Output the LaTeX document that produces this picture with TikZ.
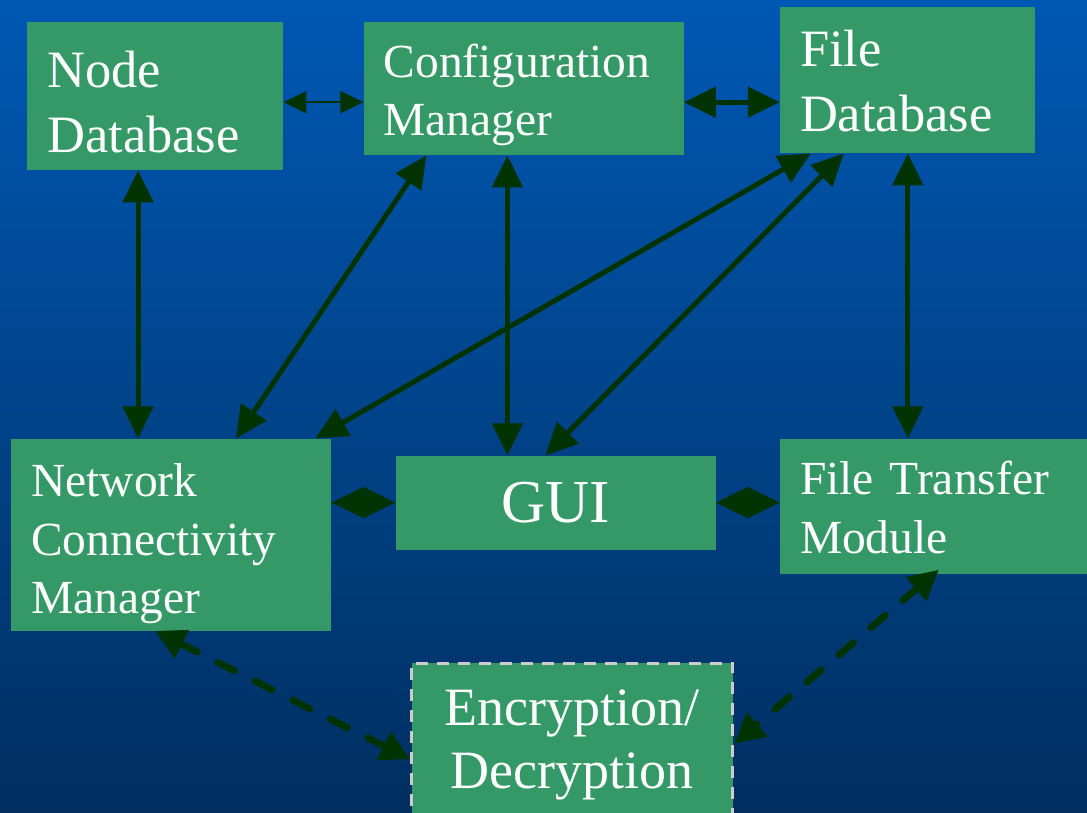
\documentclass[tikz,border=0pt]{standalone}
\usepackage{fontspec}
\setmainfont{Liberation Serif}
\usepackage{tikz}
\usetikzlibrary{arrows.meta, positioning}
\definecolor{bgtop}{HTML}{0058B4}
\definecolor{bgbottom}{HTML}{002F60}
\definecolor{boxgreen}{HTML}{349966}
\definecolor{arrowgreen}{HTML}{003300}
\definecolor{dashgray}{HTML}{CCCCCC}
\tikzset{
	block/.style={
		rectangle,
		fill=boxgreen,
		text=white,
		inner xsep=20pt,
		inner ysep=0pt,
		align=left
	},
	bigtext/.style={font=\fontsize{52.5}{65}\selectfont},
	midtext/.style={font=\fontsize{47.5}{58.5}\selectfont},
	link/.style={
		line width=5pt,
		draw=arrowgreen,
		<->,
		>={Triangle[length=32pt,width=30pt]}
	},
	thinlink/.style={
		line width=2pt,
		draw=arrowgreen,
		<->,
		>={Triangle[length=23pt,width=22pt]}
	},
	cryptlink/.style={
		line width=7pt,
		draw=arrowgreen,
		line cap=round,
		dash pattern=on 19pt off 23pt,
		<->,
		>={Triangle[length=30pt,width=30pt]}
	}
}

\begin{document}
\begin{tikzpicture}[x=1pt, y=-1pt]
	\useasboundingbox (0,0) rectangle (1087,813);
	\shade [top color=bgtop, bottom color=bgbottom] (0,0) rectangle (1087,813);

	\node (ndb) [block, bigtext, anchor=north west, text width=216pt, text height=48pt, minimum height=148pt] at (27,22) {Node\\Database};
	\node (cfg) [block, midtext, right=80pt of ndb.north east, anchor=north west, text width=280pt, text height=46pt, minimum height=133pt] {Configuration\\Manager};
	\node (fdb) [block, bigtext, right=96pt of cfg.north east, anchor=north west, yshift=15pt, text width=215pt, text height=38pt, minimum height=146pt] {File\\Database};

	\node (ncm) [block, midtext, below=268pt of ndb.south west, anchor=north west, xshift=-16pt, text width=280pt, text height=52pt, minimum height=192pt] {Network\\Connectivity\\Manager};
	\node (gui) [block, right=64pt of ncm.north east, anchor=north west, yshift=-17pt, inner xsep=0pt, align=center, minimum width=320pt, minimum height=94pt, font=\fontsize{61}{70}\selectfont] {GUI};
	\node (ftm) [block, midtext, right=64pt of gui.north east, anchor=north west, yshift=17pt, text width=268pt, text height=36pt, minimum height=135pt] {File Transfer\\Module};

	\node (enc) [block, below=112pt of gui.south west, anchor=north west, xshift=15pt, inner xsep=0pt, align=center, text width=321pt, text height=48pt, minimum height=151pt, draw=dashgray, line width=3pt, dash pattern=on 12pt off 9pt, font=\fontsize{54}{63}\selectfont] {Encryption/\\Decryption};

	% top row
	\draw [thinlink] ([yshift=-6pt]ndb.east) -- ([yshift=-13.5pt]cfg.west);
	\draw [link] ([yshift=-13.5pt]cfg.east) -- ([yshift=-22pt]fdb.west);

	% between the rows
	\draw [link] ([xshift=111pt]ndb.south west) -- ([xshift=127pt]ncm.north west);
	\draw [link] ([xshift=63pt]cfg.south west) -- ([xshift=225pt]ncm.north west);
	\draw [link] ([xshift=144pt]cfg.south west) -- ([xshift=112pt]gui.north west);
	\draw [link] ([xshift=31pt]fdb.south west) -- ([xshift=-16pt]ncm.north east);
	\draw [link] ([xshift=64pt]fdb.south west) -- ([xshift=150pt]gui.north west);
	\draw [link] ([xshift=128pt]fdb.south west) -- ([xshift=128pt]ftm.north west);

	% lower row
	\draw [link] ([yshift=32pt]ncm.east) -- (gui.west);
	\draw [link] (gui.east) -- ([yshift=3.5pt]ftm.west);

	% encryption
	\draw [cryptlink] ([xshift=144pt]ncm.south west) -- ([yshift=-20.5pt]enc.west);
	\draw [cryptlink] ([xshift=159pt,yshift=4pt]ftm.south west) -- ([yshift=-5pt]enc.east);
\end{tikzpicture}
\end{document}
